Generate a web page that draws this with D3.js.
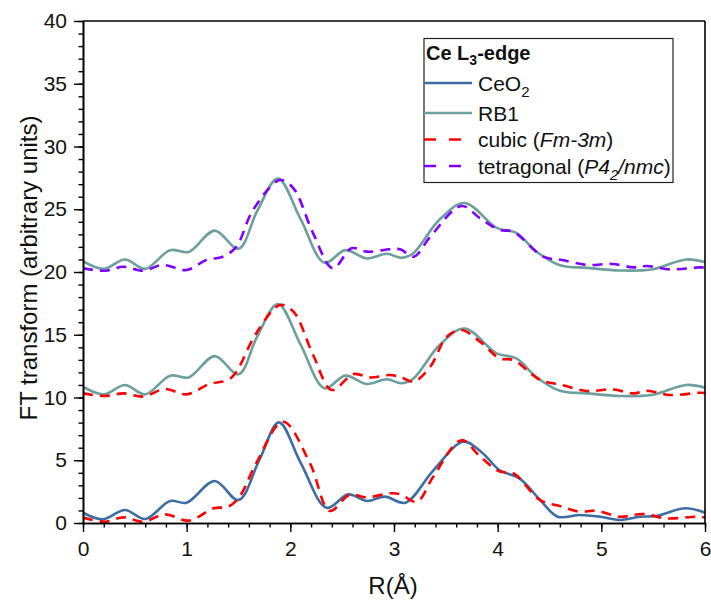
<!DOCTYPE html>
<html><head><meta charset="utf-8">
<script src="https://cdn.jsdelivr.net/npm/d3@7"></script>
<style>body{margin:0;background:#fff}svg{display:block}text{font-family:"Liberation Sans",Arial,sans-serif}</style>
</head><body>
<svg id="c" width="711" height="601"></svg>
<script>
// ---- data ----
const xTicks = [0,1,2,3,4,5,6];
const yTicks = [0,5,10,15,20,25,30,35,40];

const ceo2R = [0,0.19,0.405,0.6,0.84,1.0,1.27,1.5,1.7,1.89,2.1,2.35,2.56,2.74,2.91,3.11,3.38,3.67,3.85,4.02,4.21,4.41,4.58,4.79,4.99,5.18,5.37,5.53,5.81,6.0];
const ceo2V = [0.82,0.29,1.04,0.32,1.75,1.62,3.35,1.83,5.0,8.02,4.8,1.22,2.28,1.75,2.1,1.62,4.2,6.48,5.6,4.2,3.56,1.83,0.5,0.64,0.5,0.24,0.5,0.56,1.17,0.82];

const cubicAR = [0,0.21,0.39,0.58,0.79,1.02,1.26,1.40,1.51,1.67,1.93,2.19,2.38,2.57,2.74,2.96,3.06,3.22,3.38,3.65,3.83,4.02,4.15,4.41,4.62,4.79,4.95,5.18,5.40,5.63,5.92,6.0];
const cubicAV = [0.43,0.1,0.45,0.1,0.69,0.19,1.17,1.3,2.1,4.75,8.07,4.75,0.96,2.23,2.05,2.37,2.3,1.7,3.7,6.6,5.3,4.1,3.97,1.83,1.3,0.9,0.98,0.5,0.72,0.37,0.5,0.45];

const rb1R = [0,0.2,0.405,0.6,0.84,1.02,1.27,1.5,1.68,1.88,2.1,2.33,2.53,2.74,2.93,3.07,3.18,3.44,3.68,3.99,4.18,4.37,4.6,4.86,5.18,5.48,5.82,6.0];
const rb1V = [0.86,0.25,1.0,0.25,1.74,1.6,3.3,1.85,4.85,7.45,4.2,0.73,1.74,1.08,1.45,1.13,1.45,4.18,5.5,3.52,3.12,1.66,0.54,0.33,0.12,0.2,1.0,0.78];

const cubicBR = [0,0.21,0.39,0.58,0.79,1.0,1.22,1.40,1.48,1.67,1.9,2.03,2.22,2.40,2.61,2.77,2.96,3.07,3.19,3.35,3.51,3.65,3.83,4.02,4.15,4.41,4.62,4.86,5.11,5.31,5.44,5.66,5.95,6.0];
const cubicBV = [0.33,0.12,0.33,0.07,0.68,0.25,1.08,1.4,2.06,5.1,7.37,6.84,3.39,0.6,1.87,1.6,1.79,1.6,1.26,2.45,4.84,5.38,4.45,3.12,2.99,1.4,1.0,0.52,0.65,0.33,0.54,0.2,0.38,0.36];

const tetR = [0,0.22,0.39,0.58,0.77,1.0,1.19,1.35,1.48,1.64,1.9,2.03,2.22,2.41,2.59,2.74,2.96,3.06,3.19,3.35,3.65,3.83,4.02,4.15,4.44,4.62,4.86,5.11,5.31,5.44,5.66,5.95,6.0];
const tetV = [0.29,0.1,0.42,0.1,0.56,0.16,0.96,1.22,2.02,4.94,7.33,6.67,3.08,0.29,1.89,1.62,1.81,1.81,1.22,2.81,5.26,4.28,3.35,3.21,1.22,0.96,0.56,0.64,0.37,0.48,0.21,0.37,0.35];

const series = [
  {name:"CeO2", R:ceo2R, V:ceo2V, off:0, color:"#3d6ea3", dash:null},
  {name:"cubic", R:cubicAR, V:cubicAV, off:0, color:"#ff0000", dash:"10,7"},
  {name:"RB1", R:rb1R, V:rb1V, off:10, color:"#6c9f9e", dash:null},
  {name:"cubic", R:cubicBR, V:cubicBV, off:10, color:"#ff0000", dash:"10,7"},
  {name:"RB1", R:rb1R, V:rb1V, off:20, color:"#6c9f9e", dash:null},
  {name:"tetragonal", R:tetR, V:tetV, off:20, color:"#8000ff", dash:"10,7"}
];

// ---- layout ----
const svg = d3.select("#c");
const L=83, R=705, T=21, B=523;
const x = d3.scaleLinear().domain([0,6]).range([L,R]);
const y = d3.scaleLinear().domain([0,40]).range([B,T]);

svg.append("defs").append("clipPath").attr("id","cp")
  .append("rect").attr("x",L).attr("y",T).attr("width",R-L).attr("height",B-T);

const line = d3.line().x(d=>x(d[0])).y(d=>y(d[1])).curve(d3.curveCatmullRom.alpha(0.5));
const g = svg.append("g").attr("clip-path","url(#cp)");
series.forEach(s=>{
  const pts = s.R.map((r,i)=>[r, s.V[i]+s.off]);
  g.append("path").attr("d",line(pts)).attr("fill","none")
    .attr("stroke",s.color).attr("stroke-width",2.6)
    .attr("stroke-dasharray",s.dash).attr("stroke-linejoin","round");
});

// axes
const xAxis = d3.axisBottom(x).tickValues(xTicks).tickSize(9).tickSizeOuter(0).tickPadding(9).tickFormat(d3.format("d"));
const xMinor = d3.axisBottom(x).tickValues(d3.range(0,6.01,0.2)).tickSize(4.5).tickFormat("").tickSizeOuter(0);
const yAxis = d3.axisLeft(y).tickValues(yTicks).tickSize(9).tickSizeOuter(0).tickPadding(7);
const yMinor = d3.axisLeft(y).tickValues(d3.range(0,40.01,1)).tickSize(4.5).tickFormat("").tickSizeOuter(0);

function style(sel){
  sel.selectAll("path.domain").attr("stroke","#000").attr("stroke-width",1.6);
  sel.selectAll("line").attr("stroke","#000").attr("stroke-width",1.4);
  sel.selectAll("text").attr("font-size",21).attr("fill","#111").attr("font-family","Liberation Sans, Arial, sans-serif");
}
svg.append("g").attr("transform",`translate(0,${B})`).call(xMinor).call(style);
svg.append("g").attr("transform",`translate(0,${B})`).call(xAxis).call(style);
svg.append("g").attr("transform",`translate(${L},0)`).call(yMinor).call(style);
svg.append("g").attr("transform",`translate(${L},0)`).call(yAxis).call(style);

// frame top/right
svg.append("line").attr("x1",L).attr("x2",R).attr("y1",T).attr("y2",T).attr("stroke","#000").attr("stroke-width",1.6);
svg.append("line").attr("x1",R).attr("x2",R).attr("y1",T).attr("y2",B).attr("stroke","#000").attr("stroke-width",1.6);

// axis titles
svg.append("text").attr("x",393).attr("y",594).attr("text-anchor","middle")
  .attr("font-size",24).attr("fill","#111").text("R(Å)");
svg.append("text").attr("transform",`translate(37,268) rotate(-90)`).attr("text-anchor","middle")
  .attr("font-size",24).attr("fill","#111").text("FT transform (arbitrary units)");

// legend
const lg = svg.append("g");
lg.append("rect").attr("x",424).attr("y",38.5).attr("width",249).attr("height",144)
  .attr("fill","#fff").attr("stroke","#222").attr("stroke-width",1.2);
const t0 = lg.append("text").attr("x",426).attr("y",59.5).attr("font-size",20).attr("font-weight","bold").attr("fill","#111");
t0.append("tspan").text("Ce L");
t0.append("tspan").attr("font-size",14).attr("dy",5).text("3");
t0.append("tspan").attr("dy",-5).text("-edge");

const legItems = [
  {color:"#3d6ea3", dash:null, y:83, parts:[["CeO",""],["2","sub"]]},
  {color:"#6c9f9e", dash:null, y:113, parts:[["RB1",""]]},
  {color:"#ff0000", dash:"12,13", y:139.5, parts:[["cubic (",""],["Fm-3m","i"],[")",""]]},
  {color:"#8000ff", dash:"12,13", y:166, parts:[["tetragonal (",""],["P4","i"],["2","isub"],["/nmc","i"],[")",""]]}
];
legItems.forEach(it=>{
  lg.append("line").attr("x1",424).attr("x2",472).attr("y1",it.y).attr("y2",it.y)
    .attr("stroke",it.color).attr("stroke-width",2.6).attr("stroke-dasharray",it.dash);
  const t = lg.append("text").attr("x",478).attr("y",it.y+7.5).attr("font-size",21).attr("fill","#111");
  let sub=false;
  it.parts.forEach(p=>{
    const ts = t.append("tspan").text(p[0]);
    if(p[1].includes("i")) ts.attr("font-style","italic");
    if(p[1].includes("sub")){ ts.attr("font-size",15).attr("dy",6); sub=true; }
    else if(sub){ ts.attr("dy",-6); sub=false; }
  });
});
</script>
</body></html>
